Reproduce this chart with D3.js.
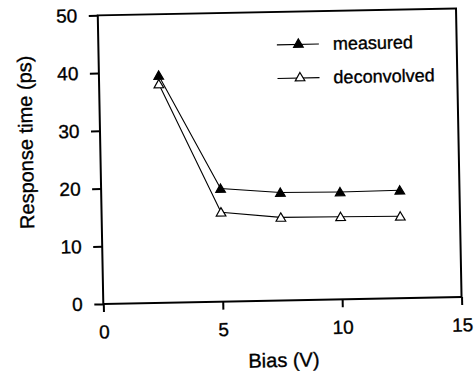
<!DOCTYPE html>
<html><head><meta charset="utf-8">
<script src="https://cdn.jsdelivr.net/npm/d3@7"></script>
<style>body{margin:0;background:#fff}svg{display:block}text{font-family:"Liberation Sans",Arial,sans-serif;fill:#000;stroke:#000;stroke-width:0.35px}</style>
</head><body><svg id="c" width="475" height="377"></svg>
<script>
const bias = [2.5, 5, 7.5, 10, 12.5];
const measured = [39.4, 19.6, 18.7, 18.6, 18.7];
const deconvolved = [37.9, 15.5, 14.4, 14.3, 14.2];
const xTicks = [0, 5, 10, 15];
const yTicks = [0, 10, 20, 30, 40, 50];
const seriesNames = ["measured", "deconvolved"];

const svg = d3.select("#c");
// the scanned original is slightly rotated
const g = svg.append("g").attr("transform", "rotate(-1.1,280,156)");
const x = d3.scaleLinear().domain([0, 15]).range([100.5, 458.8]);
const y = d3.scaleLinear().domain([0, 50]).range([300.5, 11.9]);

const xa = g.append("g").attr("transform", `translate(0,${y(0)})`)
  .call(d3.axisBottom(x).tickValues(xTicks).tickSize(8).tickPadding(13).tickFormat(d3.format("d")));
const ya = g.append("g").attr("transform", `translate(${x(0)},0)`)
  .call(d3.axisLeft(y).tickValues(yTicks).tickSize(9).tickPadding(11.5).tickFormat(d3.format("d")));
[xa, ya].forEach(a => {
  a.select(".domain").remove();
  a.selectAll(".tick line").attr("stroke", "#000").attr("stroke-width", 2);
  a.selectAll(".tick text").attr("font-size", 19).attr("font-family", "Liberation Sans, Arial, sans-serif").attr("fill", "#000");
});
// frame
g.append("rect").attr("x", x(0)).attr("y", y(50)).attr("width", x(15)-x(0)).attr("height", y(0)-y(50))
  .attr("fill", "none").attr("stroke", "#000").attr("stroke-width", 2);

g.append("text").attr("x", 280).attr("y", 367).attr("text-anchor", "middle").attr("font-size", 20).text("Bias (V)");
g.append("text").attr("transform", `translate(33,137.5) rotate(-90)`).attr("text-anchor", "middle").attr("font-size", 20).text("Response time (ps)");

const tri = d3.symbol().type(d3.symbolTriangle).size(40);
const line = d3.line().x(d => x(d[0])).y(d => y(d[1]));
const data = [measured, deconvolved].map(v => bias.map((b, i) => [b, v[i]]));
const fills = ["#000", "#fff"];
data.forEach((pts, k) => {
  g.append("path").attr("d", line(pts)).attr("fill", "none").attr("stroke", "#000").attr("stroke-width", 1.1);
  g.selectAll(null).data(pts).enter().append("path")
    .attr("d", tri).attr("transform", d => `translate(${x(d[0])},${y(d[1])+1})`)
    .attr("fill", fills[k]).attr("stroke", "#000").attr("stroke-width", 1.2);
});

// legend
seriesNames.forEach((n, k) => {
  const ly = 44.8 + k * 33.6;
  g.append("line").attr("x1", 279).attr("x2", 321).attr("y1", ly).attr("y2", ly).attr("stroke", "#000").attr("stroke-width", 1.1);
  g.append("path").attr("d", tri).attr("transform", `translate(${300.5 + k},${ly})`).attr("fill", fills[k]).attr("stroke", "#000").attr("stroke-width", 1.2);
  g.append("text").attr("x", 335).attr("y", ly + 6).attr("font-size", 18).text(n);
});
</script></body></html>
